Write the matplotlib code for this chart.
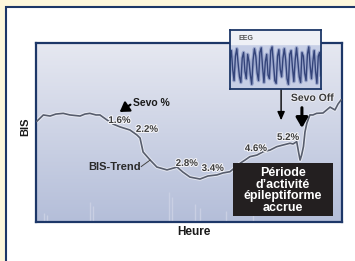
import matplotlib
matplotlib.use("Agg")
import matplotlib.pyplot as plt
import matplotlib.patheffects as pe
from matplotlib.patches import Rectangle
from matplotlib.colors import LinearSegmentedColormap
import numpy as np

# ---------------- data ----------------
# BIS trend (time in % of recording, BIS value 0-100)
bis_time = [0.3, 2.4, 4.6, 6.5, 8.9, 11.1, 14.4, 16.0, 17.6, 19.6, 20.9, 23.2, 25.2,
            27.5, 30.7, 33.0, 34.0, 35.0, 37.3, 39.5, 42.8, 46.1, 48.0, 50.3, 53.6,
            56.2, 59.1, 61.1, 63.4, 66.7, 68.3, 69.9, 72.2, 74.3, 76.5, 78.7, 80.7,
            83.0, 84.0, 85.2, 85.8, 86.3, 86.8, 87.4, 87.9, 88.5, 89.5, 90.5, 91.7,
            93.8, 96.1, 97.7, 98.7, 99.7]
bis_value = [56.3, 59.8, 59.2, 60.3, 60.7, 59.8, 59.2, 60.3, 60.7, 59.8, 59.8, 57.0, 54.7,
             53.1, 51.4, 48.6, 46.9, 39.1, 34.6, 30.7, 29.1, 30.7, 27.9, 25.1, 24.0,
             25.7, 26.3, 27.4, 28.1, 32.8, 34.6, 36.5, 37.4, 39.3, 40.2, 42.1, 43.0,
             44.0, 43.6, 44.9, 39.1, 34.6, 37.4, 42.1, 50.3, 55.1, 59.8, 59.8, 60.7,
             60.9, 64.2, 62.6, 65.9, 68.2]

# Sevoflurane concentration labels
sevo_labels = ["1.6%", "2.2%", "2.8%", "3.4%", "4.6%", "5.2%"]

# faint EMG spikes at bottom
emg_time = [2.5, 3.5, 17.5, 18.5, 43.5, 44.5, 52.0, 53.5, 62.0, 71.0]
emg_height = [5.0, 4.0, 11.0, 9.0, 17.0, 14.0, 10.0, 8.0, 6.0, 5.0]

# EEG excerpt (inset)
eeg = [0.3, 0.8, -0.2, -0.8, 0.5, 0.9, 0.1, -0.6, -0.9, 0.4, 0.7, -0.3, -0.7, 0.6,
       0.2, -0.5, -1.0, 0.3, 0.9, 0.5, -0.4, -0.8, 0.7, 0.95, -0.1, -0.9, 0.2, 0.6,
       -0.5, -0.7, 0.8, 1.0, 0.1, -0.8, -0.95, 0.5, 0.85, -0.2, -0.6, 0.4, 0.9, 0.3,
       -0.7, -1.0, 0.6, 0.8, -0.1, -0.85, 0.3, 0.95, 0.2, -0.6, -0.9, 0.7, 0.5, -0.4,
       -0.8, 0.6, 1.0, 0.0, -0.7, 0.2, 0.8, -0.3, -0.95, 0.5, 0.7, -0.5]

# ---------------- layout ----------------
W, H = 355, 261
plt.rcParams['font.family'] = ['Liberation Sans', 'DejaVu Sans']

fig = plt.figure(figsize=(W / 100, H / 100), dpi=100)
fig.patch.set_facecolor('#fdf7dc')

def fx(px):
    return px / W

def fy(py):
    return 1 - py / H

navy = '#1d3768'

# white panel
fig.patches.append(Rectangle((fx(6), fy(300)), fx(400) - fx(6), fy(7) - fy(300),
                             transform=fig.transFigure, facecolor='white',
                             edgecolor=navy, linewidth=1.5, zorder=-10))

# main axes
L, T, R, B = 36, 43, 342, 222
ax = fig.add_axes([fx(L), fy(B), fx(R) - fx(L), fy(T) - fy(B)])
ax.set_xlim(0, 100)
ax.set_ylim(0, 100)
grad = np.linspace(0, 1, 256).reshape(-1, 1)
cmap = LinearSegmentedColormap.from_list('bg', ['#b4bed9', '#e6e8f1'])
ax.imshow(grad, extent=[0, 100, 0, 100], origin='lower', aspect='auto', cmap=cmap, zorder=0)
ax.set_xticks([])
ax.set_yticks([])
for s in ax.spines.values():
    s.set_color(navy)
    s.set_linewidth(1.6)

ax.vlines(emg_time, 0, emg_height, color='#c9cfe3', linewidth=1.0, zorder=1)

ax.plot(bis_time, bis_value, color='#eef0f6', linewidth=2.6, zorder=2, alpha=0.8)
ax.plot(bis_time, bis_value, color='#575d6d', linewidth=1.2, zorder=3)

lab_pos = [(27.3, 57.0), (36.3, 52.0), (49.3, 33.0), (57.8, 30.2), (71.9, 41.3), (82.4, 47.5)]
for txt, (x, y) in zip(sevo_labels, lab_pos):
    ax.text(x, y, txt, ha='center', va='center', fontsize=7, fontweight='bold',
            color='#3c3c3c', zorder=5,
            path_effects=[pe.withStroke(linewidth=1.5, foreground='#f4f4f8')])

# Sevo % annotation
ax.annotate('', xy=(26.6, 60.6), xytext=(31.6, 66.4),
            arrowprops=dict(arrowstyle='-|>,head_length=0.55,head_width=0.35',
                            color='black', lw=1.6), zorder=6)
ax.text(31.6, 66.5, 'Sevo %', ha='left', va='center', fontsize=7.5,
        fontweight='bold', color='#1a1a1a', zorder=6)

# BIS-Trend label
ax.plot([34.4, 37.3], [31.0, 34.6], color='#444444', lw=0.7, zorder=6)
ax.text(34.3, 30.6, 'BIS-Trend', ha='right', va='center', fontsize=8,
        fontweight='bold', color='#2a2a2a', zorder=6)

# Sevo Off
ax.text(90.2, 69.3, 'Sevo Off', ha='center', va='center', fontsize=7.5,
        fontweight='bold', color='#3a3a3a', zorder=6,
        path_effects=[pe.withStroke(linewidth=1.2, foreground='#f0f0f5')])

ax.annotate('', xy=(80.1, 55.3), xytext=(80.1, 76),
            arrowprops=dict(arrowstyle='-|>,head_length=0.5,head_width=0.22',
                            color='black', lw=1.0), zorder=6, annotation_clip=False)
ax.annotate('', xy=(86.9, 51.0), xytext=(86.9, 65.4),
            arrowprops=dict(arrowstyle='-|>,head_length=0.6,head_width=0.35',
                            color='black', lw=2.2), zorder=6, annotation_clip=False)

# black box
fig.patches.append(Rectangle((fx(233), fy(216)), fx(333) - fx(233), fy(163) - fy(216),
                             transform=fig.transFigure, facecolor='#231f20',
                             edgecolor='none', zorder=5))
fig.text(fx(283), fy(190.5), "Période\nd’activité\népileptiforme\naccrue",
         ha='center', va='center', fontsize=9, fontweight='bold', color='white',
         linespacing=0.95, zorder=6)

# axis labels
fig.text(fx(194), fy(232), 'Heure', ha='center', va='center', fontsize=8.5,
         fontweight='bold', color='#1a1a1a')
fig.text(fx(25.5), fy(127), 'BIS', ha='center', va='center', fontsize=8,
         fontweight='bold', color='#1a1a1a', rotation=90)

# EEG inset
ia = fig.add_axes([fx(230), fy(89), fx(321) - fx(230), fy(30) - fy(89)])
ia.set_zorder(4)
ia.set_xlim(0, len(eeg) - 1)
ia.set_ylim(-1.25, 1.9)
ia.set_facecolor('#c7cfe6')
ia.axhspan(1.15, 1.9, color='#eef0f6', zorder=0)
ia.plot(range(len(eeg)), eeg, color='#9aa6cc', lw=2.6, zorder=1)
ia.plot(range(len(eeg)), eeg, color='#34447a', lw=1.0, zorder=2)
ia.text(0.09, 0.86, 'EEG', transform=ia.transAxes, fontsize=5, fontweight='bold',
        color='#555555', ha='left', va='center')
ia.set_xticks([])
ia.set_yticks([])
for s in ia.spines.values():
    s.set_color(navy)
    s.set_linewidth(1.3)

fig.savefig('out.png', dpi=100, facecolor=fig.get_facecolor())
